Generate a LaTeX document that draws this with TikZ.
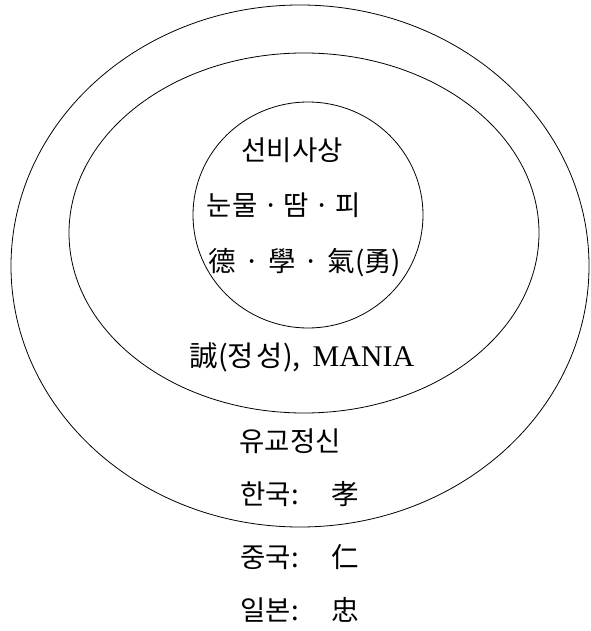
\documentclass[tikz,border=0pt]{standalone}
\usepackage{fontspec}
\setmainfont{Liberation Serif}
\newfontfamily\kr{Noto Sans CJK KR}
\newcommand{\dotsep}{\hspace{0.2em}·\hspace{0.2em}}
\newcommand{\dotsepw}{\hspace{0.3em}·\hspace{0.3em}}
\begin{document}
\begin{tikzpicture}[x=1pt,y=-1pt,
  ring/.style={draw, line width=0.8pt},
  lbl/.style={font=\kr\fontsize{27.5}{32}\selectfont, inner sep=0pt, anchor=center},
  latin/.style={font=\fontsize{30}{34}\selectfont, inner sep=0pt, anchor=center}]
\useasboundingbox (0,0) rectangle (590,631);
\fill[white] (0,0) rectangle (590,631);
% rings
\draw[ring] (300,266) ellipse [x radius=289, y radius=261];
\draw[ring] (304,233) ellipse [x radius=235, y radius=180];
\draw[ring] (308,215) ellipse [x radius=115, y radius=113];
% inner texts
\node[lbl] (t1) at (292,150) {선비사상};
\node[lbl] (t2) at (284,205) {눈물\dotsep 땀\dotsep 피};
\node[lbl] (t3) at (305,263) {德\dotsepw 學\dotsepw 氣(勇)};
% middle text
\node[latin] (t4) at (302,357) {{\kr\fontsize{28.5}{32}\selectfont 誠(정\hspace{0.1em}성),}\hspace{0.4em}MANIA};
% outer / bottom texts
\node[lbl] (t5) at (290,441) {유교정신};
\node[lbl] (t6) at (300,494) {한국:\hspace{1.2em}孝};
\node[lbl] (t7) at (300,557) {중국:\hspace{1.2em}仁};
\node[lbl] (t8) at (300,610) {일본:\hspace{1.2em}忠};
\end{tikzpicture}
\end{document}
